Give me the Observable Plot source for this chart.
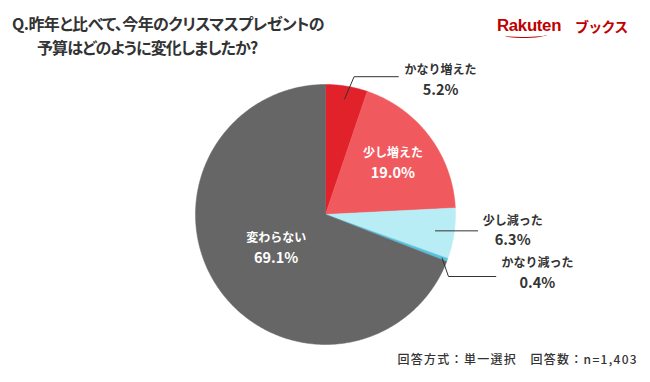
<!DOCTYPE html>
<html><head><meta charset="utf-8">
<script src="https://cdn.jsdelivr.net/npm/d3@7"></script>
<script src="https://cdn.jsdelivr.net/npm/@observablehq/plot@0.6"></script>
<style>
body{margin:0;background:#fff;font-family:"Noto Sans CJK JP","Noto Sans",sans-serif;}
#wrap{position:relative;width:650px;height:382px;overflow:hidden;}
#wrap svg{position:absolute;left:0;top:0;}
.t{position:absolute;color:#333;font-weight:700;white-space:nowrap;line-height:1;}
.ttl{font-size:16px;font-feature-settings:"palt";}
</style></head><body>
<div id="wrap">
  <div class="t ttl" style="left:12px;top:15px;letter-spacing:-0.55px;">Q.昨年と比べて、今年のクリスマスプレゼントの</div>
  <div class="t ttl" style="left:37px;top:39px;letter-spacing:-0.9px;">予算はどのように変化しましたか?</div>
  <div class="t" style="left:497px;top:18px;color:#bf0000;font-family:'Liberation Sans',Arial,sans-serif;font-size:16.8px;letter-spacing:-0.3px;">Rakuten</div>
  <div class="t" style="left:575px;top:19px;color:#bf0000;font-size:14px;font-weight:700;letter-spacing:-0.8px;">ブックス</div>
  <div style="position:absolute;left:505px;top:32px;width:42px;height:5px;border-bottom:1.5px solid #bf0000;border-radius:0 0 60% 40%;"></div>
  <div class="t" style="right:12px;top:353px;font-size:12px;font-weight:500;letter-spacing:1.3px;">回答方式：単一選択　回答数：n=1,403</div>
</div>
<script>
const categories = ["かなり増えた", "少し増えた", "少し減った", "かなり減った", "変わらない"];
const values = [5.2, 19.0, 6.3, 0.4, 69.1];
const colors = ["#e2222a", "#f05a5e", "#b9edf5", "#58c1dc", "#666666"];
const valueLabels = ["5.2%", "19.0%", "6.3%", "0.4%", "69.1%"];

const total = d3.sum(values);
let acc = 0;
const slices = values.map((v, i) => {
  const a0 = acc / total * 2 * Math.PI;
  acc += v;
  const a1 = acc / total * 2 * Math.PI;
  return {cat: categories[i], value: v, a0, a1, mid: (a0 + a1) / 2, color: colors[i], label: valueLabels[i]};
});
const polar = (a, r) => [r * Math.sin(a), r * Math.cos(a)];

// polygon points for each slice
const piePts = [];
slices.forEach((s, i) => {
  piePts.push({i, x: 0, y: 0});
  const n = Math.max(2, Math.ceil((s.a1 - s.a0) / (Math.PI / 360)));
  for (let k = 0; k <= n; k++) {
    const [x, y] = polar(s.a0 + (s.a1 - s.a0) * k / n, 1);
    piePts.push({i, x, y});
  }
  piePts.push({i, x: 0, y: 0});
});

// label layout (placement per category index)
const layout = [
  {inside: false, r0: 0.9, elbow: [0.22, 1.06], end: [0.56, 1.06], text: [0.885, 1.03]},
  {inside: true, r: 0.65},
  {inside: false, r0: 0.855, elbow: null, end: [1.17, null], text: [1.44, null]},
  {inside: false, r0: 0.958, elbow: [0.946, -0.477], end: [1.31, -0.477], text: [1.63, -0.455]},
  {inside: true, r: 0.46}
];

const leaders = [];
const labels = [];
slices.forEach((s, i) => {
  const L = layout[i];
  if (L.inside) {
    const [x, y] = polar(s.mid, L.r);
    labels.push({x, y, cat: s.cat, label: s.label, fill: "white"});
  } else {
    const start = polar(s.mid, L.r0);
    const pts = [start];
    if (L.elbow) pts.push(L.elbow);
    const end = [L.end[0], L.end[1] == null ? start[1] : L.end[1]];
    pts.push(end);
    pts.forEach(p => leaders.push({i, x: p[0], y: p[1]}));
    const tx = L.text[0], ty = L.text[1] == null ? start[1] : L.text[1];
    labels.push({x: tx, y: ty, cat: s.cat, label: s.label, fill: "#333"});
  }
});

const plot = Plot.plot({
  width: 650,
  height: 382,
  margin: 0,
  x: {domain: [-1, 1], range: [195, 455], axis: null},
  y: {domain: [-1, 1], range: [344, 84], axis: null},
  style: {fontFamily: "'Noto Sans CJK JP', 'Noto Sans', sans-serif", background: "transparent"},
  marks: [
    Plot.line(piePts, {x: "x", y: "y", z: "i", fill: d => slices[d.i].color, stroke: d => slices[d.i].color, strokeWidth: 0.5, curve: "linear"}),
    Plot.line(leaders, {x: "x", y: "y", z: "i", stroke: "#333", strokeWidth: 1}),
    Plot.text(labels, {x: "x", y: "y", text: "cat", fill: "fill", fontSize: 12, fontWeight: 700, dy: -10}),
    Plot.text(labels, {x: "x", y: "y", text: "label", fill: "fill", fontSize: 14.5, fontWeight: 700, dy: 10})
  ]
});
document.getElementById("wrap").prepend(plot);
</script>
</body></html>
